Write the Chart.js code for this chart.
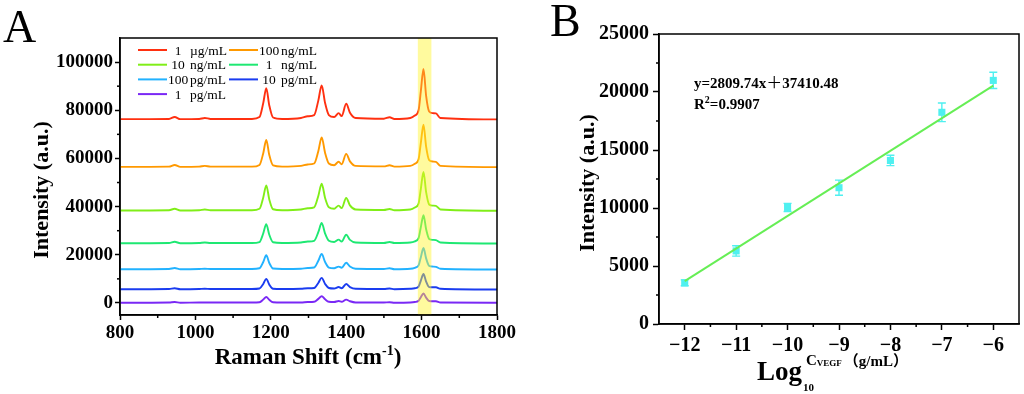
<!DOCTYPE html>
<html>
<head>
<meta charset="utf-8">
<script src="https://cdn.jsdelivr.net/npm/chart.js@4.4.1/dist/chart.umd.min.js"></script>
<style>
html, body { margin: 0; padding: 0; background: #fff; }
#wrap { position: relative; width: 1024px; height: 394px; overflow: hidden; }
.panel { position: absolute; top: 0; height: 394px; }
</style>
</head>
<body>
<div id="wrap">
  <div class="panel" style="left:0;width:540px"><canvas id="chartA" width="540" height="394"></canvas></div>
  <div class="panel" style="left:512px;width:512px"><canvas id="chartB" width="512" height="394"></canvas></div>
</div>
<script>
// ---- panel A : SERS spectra ----
var shift = [800, 930, 945, 960, 1010, 1025, 1040, 1150, 1170, 1180, 1188, 1196, 1206, 1230, 1280, 1298, 1315, 1326, 1335, 1344, 1354, 1368, 1380, 1388, 1400, 1410, 1425, 1500, 1515, 1528, 1570, 1582, 1592, 1598, 1605, 1612, 1620, 1630, 1638, 1650, 1800];
var spec1ug   = [76300, 76400, 77200, 76300, 76400, 76800, 76400, 76400, 77200, 83000, 89200, 82000, 77000, 76400, 76800, 77500, 78000, 84000, 90300, 83000, 78000, 77200, 78800, 77600, 82700, 79000, 76800, 76500, 77100, 76400, 76800, 77800, 80000, 88000, 97100, 86000, 79500, 78800, 78700, 76800, 76200];
var spec100ng = [56500, 56600, 57300, 56500, 56600, 56900, 56600, 56600, 57300, 62200, 67700, 61400, 57100, 56600, 56900, 57500, 57900, 63000, 68700, 62300, 57900, 57200, 58600, 57600, 61900, 58800, 56900, 56700, 57200, 56600, 56900, 57800, 59700, 66500, 74000, 64900, 59300, 58700, 58600, 56900, 56400];
var spec10ng  = [38400, 38500, 39100, 38400, 38500, 38800, 38500, 38500, 39100, 43800, 48800, 43000, 38900, 38500, 38800, 39300, 39700, 44400, 49500, 43600, 39700, 39100, 40400, 39400, 43600, 40500, 38800, 38600, 39000, 38500, 38800, 39600, 41300, 47400, 54400, 46000, 40900, 40400, 40300, 38800, 38300];
var spec1ng   = [24800, 24900, 25400, 24800, 24900, 25100, 24900, 24900, 25300, 28900, 32700, 28300, 25200, 24900, 25100, 25500, 25800, 29400, 33200, 28800, 25800, 25300, 26300, 25500, 28300, 26200, 25100, 24900, 25300, 24900, 25100, 25600, 26900, 31500, 36400, 30600, 26600, 26200, 26100, 25100, 24700];
var spec100pg = [14000, 14100, 14500, 14000, 14100, 14200, 14100, 14100, 14400, 17000, 19800, 16600, 14300, 14100, 14200, 14500, 14700, 17500, 20300, 17000, 14700, 14400, 15100, 14600, 16700, 15100, 14200, 14100, 14400, 14000, 14200, 14600, 15600, 19000, 22800, 18500, 15400, 15100, 15000, 14200, 13900];
var spec10pg  = [5700, 5800, 6100, 5700, 5800, 5900, 5800, 5800, 6000, 7900, 10000, 7600, 5900, 5800, 5900, 6100, 6200, 8300, 10400, 7900, 6200, 6000, 6600, 6100, 7900, 6600, 5900, 5800, 6000, 5700, 5900, 6100, 6800, 9300, 12000, 8900, 6600, 6500, 6500, 5900, 5600];
var spec1pg   = [100, 200, 400, 100, 200, 200, 200, 200, 300, 1400, 2500, 1300, 300, 200, 200, 400, 500, 1700, 2800, 1500, 500, 400, 800, 500, 1400, 700, 200, 200, 300, 100, 200, 400, 900, 2400, 3900, 2200, 800, 700, 700, 200, 100];

var concNum  = ['1', '100', '10', '1', '100', '10', '1'];
var concUnit = ['µg/mL', 'ng/mL', 'ng/mL', 'ng/mL', 'pg/mL', 'pg/mL', 'pg/mL'];
var spectra  = [spec1ug, spec100ng, spec10ng, spec1ng, spec100pg, spec10pg, spec1pg];
var lineColors = ['#ff3010', '#ff9900', '#80ee18', '#1ee872', '#22b2ff', '#1a3cf0', '#7a28f5'];

var ramanTicks = [800, 1000, 1200, 1400, 1600, 1800];
var intTicksA = [0, 20000, 40000, 60000, 80000, 100000];
var band = [1590, 1626];

// ---- panel B : calibration ----
var logConc = [-12, -11, -10, -9, -8, -7, -6];
var peakInt = [3550, 6300, 10050, 11750, 14100, 18250, 21000];
var peakErr = [250, 450, 350, 650, 450, 800, 700];
var fitX = [-12, -6];
var fitY = [3690, 20550];
var fitSlope = '2809.74';
var fitIntercept = '37410.48';
var rSquared = '0.9907';
var logTicks = [-12, -11, -10, -9, -8, -7, -6];
var intTicksB = [0, 5000, 10000, 15000, 20000, 25000];

var serif = '"Liberation Serif", "Times New Roman", serif';
var cjk = '"Noto Sans CJK SC", sans-serif';

function txt(ctx, s, x, y, font, align) {
    ctx.font = font;
    ctx.textAlign = align || 'left';
    ctx.textBaseline = 'alphabetic';
    ctx.fillText(s, x, y);
    return ctx.measureText(s).width;
}

function vtxt(ctx, s, cx, cy, font) {
    ctx.save();
    ctx.translate(cx, cy);
    ctx.rotate(-Math.PI / 2);
    ctx.font = font;
    ctx.textAlign = 'center';
    ctx.textBaseline = 'middle';
    ctx.fillText(s, 0, 0);
    ctx.restore();
}

// box frame + short minor ticks half way between the major ones
var framePlugin = {
    id: 'frame',
    afterDraw: function (chart) {
        var ctx = chart.ctx, a = chart.chartArea;
        ctx.save();
        ctx.strokeStyle = '#000';
        ctx.lineWidth = 1.5;
        ctx.strokeRect(a.left, a.top, a.right - a.left, a.bottom - a.top);
        ['x', 'y'].forEach(function (id) {
            var s = chart.scales[id];
            var t = s.ticks.map(function (k) { return k.value; });
            var step = t[1] - t[0];
            for (var v = t[0] - step / 2; v < s.max; v += step) {
                if (v <= s.min) continue;
                var p = s.getPixelForValue(v);
                ctx.beginPath();
                if (id === 'x') { ctx.moveTo(p, a.bottom); ctx.lineTo(p, a.bottom + 3); }
                else { ctx.moveTo(a.left, p); ctx.lineTo(a.left - 3, p); }
                ctx.stroke();
            }
        });
        ctx.restore();
    }
};

function axis(min, max, ticks, opts) {
    return {
        type: 'linear', min: min, max: max,
        afterBuildTicks: function (s) { s.ticks = ticks.map(function (v) { return { value: v }; }); },
        afterFit: function (s) {
            if (opts.width) s.width = opts.width;
            if (opts.height) s.height = opts.height;
            s.paddingLeft = 0; s.paddingRight = 0; s.paddingTop = 0; s.paddingBottom = 0;
        },
        grid: { drawOnChartArea: false, tickLength: opts.tick, tickWidth: 1.5, tickColor: '#000' },
        border: { color: '#000', width: 1.5 },
        ticks: {
            font: { family: serif, size: opts.size, weight: 'bold' }, color: '#000',
            padding: opts.pad, maxRotation: 0, autoSkip: false,
            callback: opts.cb || function (v) { return String(v); }
        }
    };
}

// ---- chart A ----
var bandPlugin = {
    id: 'band',
    afterDatasetsDraw: function (chart) {
        var ctx = chart.ctx, a = chart.chartArea, x = chart.scales.x;
        var x0 = x.getPixelForValue(band[0]), x1 = x.getPixelForValue(band[1]);
        ctx.save();
        ctx.fillStyle = 'rgba(255, 244, 40, 0.45)';
        ctx.fillRect(x0, a.top, x1 - x0, a.bottom - a.top);
        ctx.restore();
    }
};

var decorA = {
    id: 'decorA',
    afterDraw: function (chart) {
        var ctx = chart.ctx;
        ctx.save();
        ctx.fillStyle = '#000';
        // legend, two columns
        chart.data.datasets.forEach(function (d, i) {
            var col = i % 2, row = Math.floor(i / 2);
            var y = 50 + row * 14.7;
            var x0 = col ? 229 : 138;
            ctx.strokeStyle = d.borderColor;
            ctx.lineWidth = 2;
            ctx.beginPath(); ctx.moveTo(x0, y); ctx.lineTo(x0 + 29, y); ctx.stroke();
            ctx.textBaseline = 'middle';
            ctx.font = '13.5px ' + serif;
            ctx.textAlign = 'center';
            ctx.fillText(concNum[i], x0 + 40, y + 1);
            ctx.textAlign = 'left';
            ctx.fillText(concUnit[i], x0 + 52, y + 1);
        });
        // panel letter and axis titles
        txt(ctx, 'A', 3, 42, '46px ' + serif);
        vtxt(ctx, 'Intensity (a.u.)', 42, 190, 'bold 22px ' + serif);
        var f = 'bold 23px ' + serif, fs = 'bold 14px ' + serif;
        ctx.font = f;
        var w1 = ctx.measureText('Raman Shift (cm').width, w3 = ctx.measureText(')').width;
        ctx.font = fs;
        var w2 = ctx.measureText('-1').width;
        var x = 308 - (w1 + w2 + w3) / 2, yb = 364;
        x += txt(ctx, 'Raman Shift (cm', x, yb, f);
        x += txt(ctx, '-1', x, yb - 9, fs);
        txt(ctx, ')', x, yb, f);
        ctx.restore();
    }
};

new Chart(document.getElementById('chartA'), {
    type: 'line',
    data: {
        datasets: spectra.map(function (sp, i) {
            return {
                label: concNum[i] + ' ' + concUnit[i],
                data: sp.map(function (v, k) { return { x: shift[k], y: v }; }),
                borderColor: lineColors[i],
                borderWidth: 1.9,
                pointRadius: 0,
                cubicInterpolationMode: 'monotone',
                fill: false
            };
        })
    },
    options: {
        responsive: false, animation: false, devicePixelRatio: 1,
        layout: { padding: { top: 38, right: 43, left: 0, bottom: 0 } },
        plugins: { legend: { display: false }, tooltip: { enabled: false } },
        scales: {
            x: axis(800, 1800, ramanTicks, { height: 79, tick: 5, pad: 2, size: 19 }),
            y: axis(-5000, 110000, intTicksA, { width: 120, tick: 5, pad: 2, size: 19 })
        }
    },
    plugins: [bandPlugin, framePlugin, decorA]
});

// ---- chart B ----
var cyan = '#4ff0f0';
var errPlugin = {
    id: 'errbars',
    beforeDatasetsDraw: function (chart) {
        var ctx = chart.ctx, xs = chart.scales.x, ys = chart.scales.y;
        ctx.save();
        ctx.strokeStyle = cyan;
        ctx.lineWidth = 1.4;
        logConc.forEach(function (c, i) {
            var px = xs.getPixelForValue(c);
            var t = ys.getPixelForValue(peakInt[i] + peakErr[i]);
            var b = ys.getPixelForValue(peakInt[i] - peakErr[i]);
            ctx.beginPath();
            ctx.moveTo(px, t); ctx.lineTo(px, b);
            ctx.moveTo(px - 4, t); ctx.lineTo(px + 4, t);
            ctx.moveTo(px - 4, b); ctx.lineTo(px + 4, b);
            ctx.stroke();
        });
        ctx.restore();
    }
};

var decorB = {
    id: 'decorB',
    afterDraw: function (chart) {
        var ctx = chart.ctx;
        ctx.save();
        ctx.fillStyle = '#000';
        txt(ctx, 'B', 38, 36, '46px ' + serif);
        vtxt(ctx, 'Intensity (a.u.)', 76, 183, 'bold 22px ' + serif);
        // fit equation
        var fe = 'bold 15px ' + serif;
        var x = 182;
        x += txt(ctx, 'y=' + fitSlope + 'x', x, 88, fe);
        x += txt(ctx, '＋', x, 88, '16px ' + cjk);
        txt(ctx, fitIntercept, x, 88, fe);
        x = 182;
        x += txt(ctx, 'R', x, 109, fe);
        x += txt(ctx, '2', x, 103, 'bold 10px ' + serif);
        txt(ctx, '=' + rSquared, x, 109, fe);
        // x title
        x = 245;
        x += txt(ctx, 'Log', x, 380, 'bold 27px ' + serif);
        txt(ctx, '10', x + 1, 391, 'bold 11px ' + serif);
        x += 4;
        x += txt(ctx, 'C', x, 365, 'bold 15px ' + serif);
        x += txt(ctx, 'VEGF', x, 366, 'bold 9px ' + serif);
        x += 2;
        x += txt(ctx, '（', x, 366, 'bold 15px ' + cjk);
        x += txt(ctx, 'g/mL', x, 366, 'bold 15px ' + serif);
        txt(ctx, '）', x, 366, 'bold 15px ' + cjk);
        ctx.restore();
    }
};

new Chart(document.getElementById('chartB'), {
    type: 'scatter',
    data: {
        datasets: [{
            type: 'line',
            label: 'fit',
            data: fitX.map(function (v, i) { return { x: v, y: fitY[i] }; }),
            borderColor: '#66ee55',
            borderWidth: 2,
            pointRadius: 0,
            fill: false
        }, {
            label: 'Intensity',
            data: logConc.map(function (v, i) { return { x: v, y: peakInt[i] }; }),
            pointStyle: 'rect',
            pointRadius: 5,
            backgroundColor: cyan,
            borderColor: cyan,
            borderWidth: 0
        }]
    },
    options: {
        responsive: false, animation: false, devicePixelRatio: 1,
        layout: { padding: { top: 34, right: 3, left: 0, bottom: 0 } },
        plugins: { legend: { display: false }, tooltip: { enabled: false } },
        scales: {
            x: axis(-12.5, -5.5, logTicks, { height: 70, tick: 6, pad: 4, size: 20,
                cb: function (v) { return '\u2212' + Math.abs(v); } }),
            y: axis(0, 25000, intTicksB, { width: 147, tick: 6, pad: 4, size: 20 })
        }
    },
    plugins: [errPlugin, framePlugin, decorB]
});
</script>
</body>
</html>
